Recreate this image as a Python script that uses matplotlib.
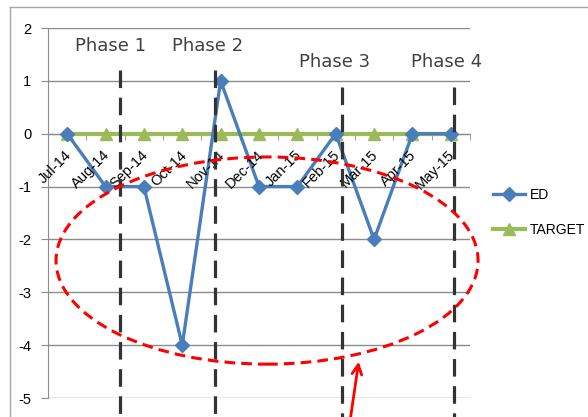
import matplotlib
matplotlib.use("Agg")
import matplotlib.pyplot as plt
from matplotlib.patches import Ellipse
from matplotlib.lines import Line2D
from matplotlib.transforms import offset_copy

plt.rcParams.update({
    "font.family": ["Liberation Sans", "DejaVu Sans"],
    "axes.unicode_minus": False,
})

# monthly data
months = ["Jul-14", "Aug-14", "Sep-14", "Oct-14", "Nov-14", "Dec-14",
          "Jan-15", "Feb-15", "Mar-15", "Apr-15", "May-15"]
ed = [0, -1, -1, -4, 1, -1, -1, 0, -2, 0, 0]
target = [0, 0, 0, 0, 0, 0, 0, 0, 0, 0, 0]
y_ticks = [2, 1, 0, -1, -2, -3, -4, -5]

# phase boundaries (category units) and labels
phase_x = [1.377, 3.854, 7.16, 10.08]
phase_top = [1.21, 1.21, 0.89, 0.89]
phase_names = ["Phase 1", "Phase 2", "Phase 3", "Phase 4"]
phase_label_x = [1.14, 3.67, 6.96, 9.88]
phase_label_y = [1.66, 1.66, 1.36, 1.36]

blue = "#4A7EBB"
green = "#9BBB59"
grid_gray = "#8C8C8C"

fig = plt.figure(figsize=(5.88, 4.17), dpi=100)
ax = fig.add_axes([48 / 588, 1 - 398 / 417, 422 / 588, 370 / 417])

x = list(range(len(months)))
ax.plot(x, target, color=green, lw=3, marker="^", markersize=8,
        label="TARGET", zorder=3)
ax.plot(x, ed, color=blue, lw=2.4, marker="D", markersize=7,
        label="ED", zorder=4)

ax.set_xlim(-0.5, len(months) - 0.5)
ax.set_ylim(-5, 2)

# axes styling
for side in ["top", "right"]:
    ax.spines[side].set_visible(False)
ax.spines["left"].set_color(grid_gray)
ax.spines["bottom"].set_position(("data", 0))
ax.spines["bottom"].set_color(grid_gray)

ax.set_yticks(y_ticks)
ax.set_yticklabels([str(v) for v in y_ticks], fontsize=10.5)
ax.tick_params(axis="y", length=5, color=grid_gray, pad=7)
ax.yaxis.grid(True, color=grid_gray, lw=1)
ax.set_axisbelow(True)

ax.set_xticks(x)
ax.set_xticklabels([])
ax.tick_params(axis="x", which="major", length=0)
ax.set_xticks([i - 0.5 for i in range(len(months) + 1)], minor=True)
ax.tick_params(axis="x", which="minor", length=4, color=grid_gray,
               direction="out")

# rotated month labels just below the zero line
lab_tr = offset_copy(ax.transData, fig=fig, x=2, y=-19, units="dots")
for i, m in enumerate(months):
    ax.text(i, 0, m, transform=lab_tr, rotation=45, rotation_mode="anchor",
            ha="right", va="center", fontsize=10.5, zorder=5)

# phase separators
for px, top in zip(phase_x, phase_top):
    ax.plot([px, px], [top, -5.45], color="#333333", lw=2.3,
            ls=(0, (5.5, 3)), clip_on=False, zorder=5)
for name, lx, ly in zip(phase_names, phase_label_x, phase_label_y):
    ax.text(lx, ly, name, ha="center", va="center", fontsize=13,
            family="DejaVu Sans", color="#404040")

# highlight of the below-target months
ax.add_patch(Ellipse((5.21, -2.40), 11.0, 3.92, fill=False, ec="red",
                     lw=2.2, ls=(0, (3.5, 2)), clip_on=False, zorder=6))
ax.annotate("", xy=(7.61, -4.26), xytext=(7.37, -5.45),
            arrowprops=dict(arrowstyle="->,head_length=0.7,head_width=0.35",
                            color="red", lw=2),
            annotation_clip=False, zorder=6)

# legend, ED first
handles, labels = ax.get_legend_handles_labels()
ax.legend(handles[::-1], labels[::-1], loc="upper left",
          bbox_to_anchor=(493 / 588, 1 - 188 / 417),
          bbox_transform=fig.transFigure, frameon=False, fontsize=10,
          borderpad=0, borderaxespad=0, handlelength=2.3,
          handletextpad=0.35, labelspacing=1.5)

# chart area border
bx, by = 10 / 588, 1 - 7 / 417
fig.add_artist(Line2D([bx, bx], [0, by], color="#A6A6A6", lw=1,
                      transform=fig.transFigure))
fig.add_artist(Line2D([bx, 1], [by, by], color="#A6A6A6", lw=1,
                      transform=fig.transFigure))

fig.savefig("out.png", dpi=100)
